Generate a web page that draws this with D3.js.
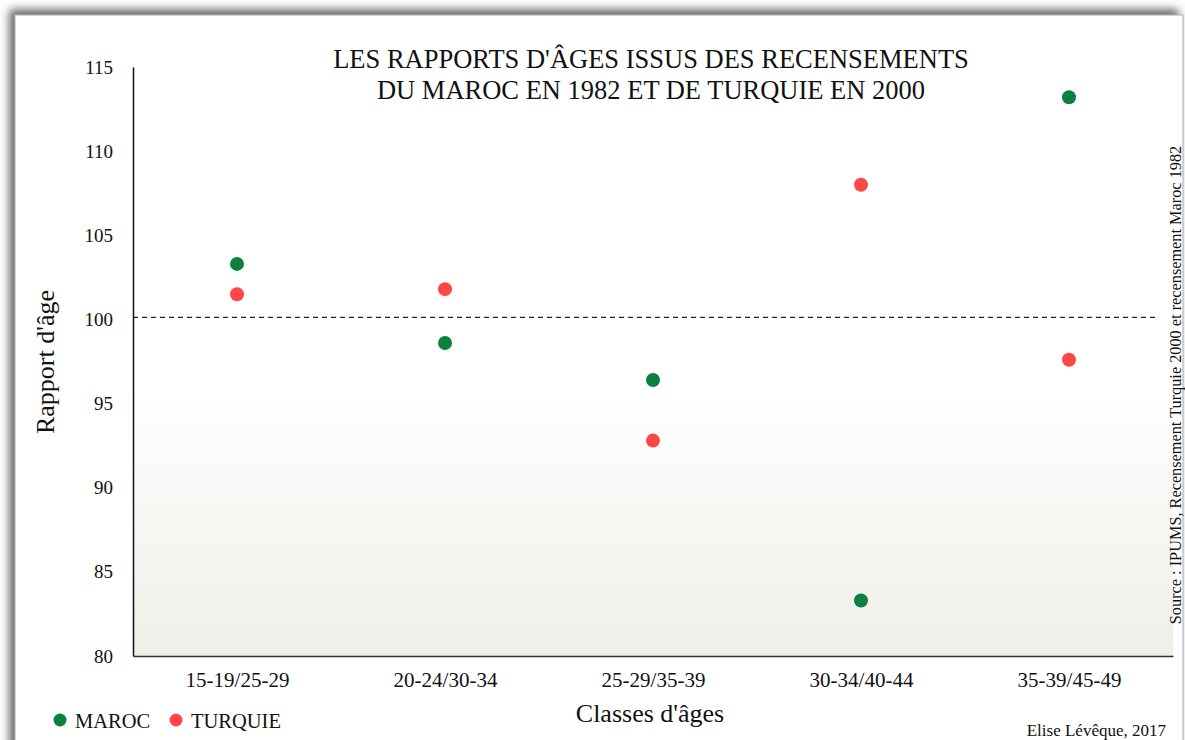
<!DOCTYPE html>
<html>
<head>
<meta charset="utf-8">
<script src="https://cdn.jsdelivr.net/npm/d3@7"></script>
<style>
  body { margin: 0; background: #fff; }
  text { font-family: "Liberation Serif", "Times New Roman", serif; fill: #111; }
</style>
</head>
<body>
<script>
var width = 1185,
    height = 740;

var categories = ["15-19/25-29", "20-24/30-34", "25-29/35-39", "30-34/40-44", "35-39/45-49"];
var maroc = [103.3, 98.6, 96.4, 83.3, 113.2];
var turquie = [101.5, 101.8, 92.8, 108.0, 97.6];
var yTicks = [80, 85, 90, 95, 100, 105, 110, 115];
var seriesNames = ["MAROC", "TURQUIE"];
var seriesColors = ["#0b8040", "#ff4747"];

var margin = { left: 133, right: 1173, top: 67, bottom: 656 };

var svg = d3.select("body").append("svg")
    .attr("width", width)
    .attr("height", height);

var defs = svg.append("defs");

// shadow of the card (top and left)
var filter = defs.append("filter").attr("id", "shadow")
    .attr("x", "-5%").attr("y", "-5%").attr("width", "110%").attr("height", "110%");
filter.append("feDropShadow")
    .attr("dx", -5).attr("dy", -5)
    .attr("stdDeviation", 5)
    .attr("flood-color", "#444")
    .attr("flood-opacity", 0.85);

var grad = defs.append("linearGradient").attr("id", "bg")
    .attr("x1", 0).attr("y1", 0).attr("x2", 0).attr("y2", 1);
grad.append("stop").attr("offset", "0%").attr("stop-color", "#ffffff");
grad.append("stop").attr("offset", "55%").attr("stop-color", "#ffffff");
grad.append("stop").attr("offset", "100%").attr("stop-color", "#f0eee8");

svg.append("rect")
    .attr("x", 15).attr("y", 15)
    .attr("width", 1168).attr("height", 760)
    .attr("fill", "#fff")
    .attr("stroke", "#aaa")
    .attr("stroke-width", 1)
    .attr("filter", "url(#shadow)");

var x = d3.scalePoint()
    .domain(categories)
    .range([margin.left, margin.right])
    .padding(0.5);

var y = d3.scaleLinear()
    .domain([80, 115])
    .range([margin.bottom, margin.top]);

// plot background
svg.append("rect")
    .attr("x", margin.left).attr("y", margin.top)
    .attr("width", margin.right - margin.left)
    .attr("height", margin.bottom - margin.top)
    .attr("fill", "url(#bg)");

// reference line at 100
svg.append("line")
    .attr("x1", margin.left).attr("x2", 1155)
    .attr("y1", y(100) - 2).attr("y2", y(100) - 2)
    .attr("stroke", "#222")
    .attr("stroke-width", 1.3)
    .attr("stroke-dasharray", "5,4");

// axes
var yAxis = svg.append("g")
    .attr("transform", "translate(" + margin.left + ",0)")
    .call(d3.axisLeft(y).tickValues(yTicks).tickSize(0).tickPadding(20));
yAxis.select(".domain").attr("stroke", "#111").attr("stroke-width", 1.5);
yAxis.selectAll("text")
    .style("font-family", "Liberation Serif")
    .style("font-size", "19px")
    .attr("fill", "#111");

var xAxis = svg.append("g")
    .attr("transform", "translate(0," + margin.bottom + ")")
    .call(d3.axisBottom(x).tickSize(0).tickPadding(16));
xAxis.select(".domain").attr("stroke", "#333").attr("stroke-width", 1.5);
xAxis.selectAll("text")
    .style("font-family", "Liberation Serif")
    .style("font-size", "21px")
    .attr("fill", "#111");

// points
var series = [maroc, turquie];
series.forEach(function (values, s) {
    svg.append("g").selectAll("circle")
        .data(values)
        .enter()
        .append("circle")
        .attr("cx", function (d, i) { return x(categories[i]); })
        .attr("cy", function (d) { return y(d); })
        .attr("r", 7)
        .attr("fill", seriesColors[s]);
});

// title
var title = svg.append("text")
    .attr("text-anchor", "middle")
    .attr("font-size", "26.5px");
title.append("tspan").attr("x", 651).attr("y", 68).text("LES RAPPORTS D'ÂGES ISSUS DES RECENSEMENTS");
title.append("tspan").attr("x", 651).attr("y", 99).text("DU MAROC EN 1982 ET DE TURQUIE EN 2000");

// axis titles
svg.append("text")
    .attr("transform", "translate(54,362) rotate(-90)")
    .attr("text-anchor", "middle")
    .attr("font-size", "26px")
    .text("Rapport d'âge");

svg.append("text")
    .attr("x", 650).attr("y", 722)
    .attr("text-anchor", "middle")
    .attr("font-size", "26px")
    .text("Classes d'âges");

// legend
var legend = svg.append("g").selectAll("g")
    .data(seriesNames)
    .enter()
    .append("g")
    .attr("transform", function (d, i) { return "translate(" + (60 + i * 116) + ",720)"; });
legend.append("circle")
    .attr("r", 6.5)
    .attr("fill", function (d, i) { return seriesColors[i]; });
legend.append("text")
    .attr("x", 15).attr("y", 8)
    .attr("font-size", "20.5px")
    .text(function (d) { return d; });

// credits
svg.append("text")
    .attr("x", 1166).attr("y", 736)
    .attr("text-anchor", "end")
    .attr("font-size", "17px")
    .text("Elise Lévêque, 2017");

svg.append("text")
    .attr("transform", "translate(1181,385) rotate(-90)")
    .attr("text-anchor", "middle")
    .attr("font-size", "16.3px")
    .text("Source : IPUMS, Recensement Turquie 2000 et recensement Maroc 1982");
</script>
</body>
</html>
